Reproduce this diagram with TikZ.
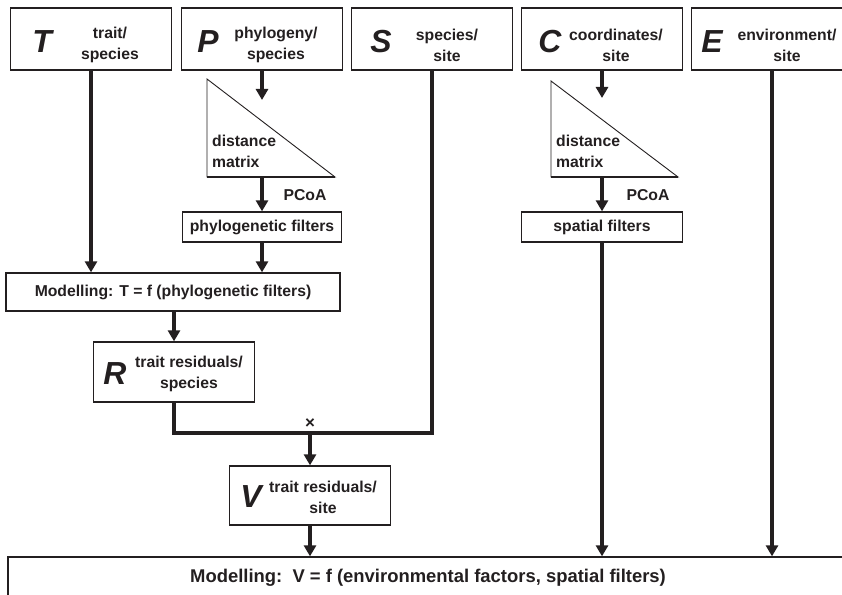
\documentclass[tikz,border=0pt]{standalone}
\usepackage{fontspec}
\setmainfont{Liberation Sans}
\usetikzlibrary{arrows.meta,positioning}
\definecolor{ink}{RGB}{35,31,32}
\tikzset{>={Triangle[length=11bp,width=12bp]}}
\tikzset{
  box/.style={draw=ink, line width=1.3bp, minimum width=161bp, minimum height=62bp, inner sep=0pt, text=ink, font=\fontsize{15.8}{20}\selectfont\bfseries},
  bigvar/.style={inner sep=0pt, text=ink, font=\fontsize{32}{32}\selectfont\bfseries\itshape},
  lbl/.style={inner sep=0pt, align=center, text=ink, font=\fontsize{15.8}{21}\selectfont\bfseries},
  flow/.style={draw=ink, line width=3.2bp, ->},
  link/.style={draw=ink, line width=3.2bp},
  tri/.style={draw=ink, line width=0.9bp},
}
\begin{document}
\begin{tikzpicture}[x=1bp,y=-1bp]
\useasboundingbox (0,0) rectangle (842,595);
%%%% top row
\node[box] (Tbox) at (91,39) {};
\node[bigvar] (T) at (42,42) {T};
\node[lbl] (Tlbl) at (110,45) {trait/\\species};
\node[box] (Pbox) at (262,39) {};
\node[bigvar] (P) at (208,42) {P};
\node[lbl] (Plbl) at (276,45) {phylogeny/\\species};
\node[box] (Sbox) at (432,39) {};
\node[bigvar] (S) at (381,42) {S};
\node[lbl] (Slbl) at (447,45) {species/\\site};
\node[box] (Cbox) at (602,39) {};
\node[bigvar] (C) at (550,42) {C};
\node[lbl] (Clbl) at (616,45) {coordinates/\\site};
\node[box] (Ebox) at (772,39) {};
\node[bigvar] (E) at (712,42) {E};
\node[lbl] (Elbl) at (787,45) {environment/\\site};
%%%% phylogeny column
\coordinate (Pa) at (207,79);
\coordinate (Pb) at (207,177);
\coordinate (Pc) at (335,177);
\coordinate (Pin) at (262,100);
\draw[tri] (Pa) -- (Pc) -- (Pb) -- cycle;
\draw[line width=2bp, draw=ink] (Pb) -- (Pc);
\node[lbl, align=left, anchor=west] (Pdist) at (212,151) {distance\\matrix};
\node[lbl] (Ppcoa) at (305,195) {PCoA};
\node[box, minimum width=159bp, minimum height=30bp] (Phyl) at (262,227) {phylogenetic filters};
\draw[flow] (Pbox.south) -- (Pin);
\draw[flow] (Pin |- Pb) -- (Phyl.north);
%%%% coordinates column
\coordinate (Ca) at (551,81);
\coordinate (Cb) at (551,177);
\coordinate (Cc) at (678,177);
\coordinate (Cin) at (602,98);
\draw[tri] (Ca) -- (Cc) -- (Cb) -- cycle;
\draw[line width=2bp, draw=ink] (Cb) -- (Cc);
\node[lbl, align=left, anchor=west] (Cdist) at (556,151) {distance\\matrix};
\node[lbl] (Cpcoa) at (648,195) {PCoA};
\node[box, minimum height=30bp] (Spat) at (602,227) {spatial filters};
\draw[flow] (Cbox.south) -- (Cin);
\draw[flow] (Cin |- Cb) -- (Spat.north);
%%%% trait modelling
\node[box, minimum width=334bp, minimum height=38bp] (Mod1) at (173,292) {Modelling: T = f (phylogenetic filters)};
\draw[flow] (Tbox.south) -- (Tbox.south |- Mod1.north);
\draw[flow] (Phyl.south) -- (Phyl.south |- Mod1.north);
\node[box, minimum height=60bp] (Rbox) at (174,372) {};
\node[bigvar] (R) at (115,374) {R};
\node[lbl] (Rlbl) at (189,374) {trait residuals/\\species};
\draw[flow] (Mod1.south -| Rbox.north) -- (Rbox.north);
%%%% product with species/site
\coordinate (J) at (310,433);
\node[lbl, font=\fontsize{17}{17}\selectfont\bfseries] (X) at (310,424) {×};
\draw[link] (Rbox.south) |- (J) -| (Sbox.south);
\node[box, minimum height=59bp] (Vbox) at (310,495.5) {};
\node[bigvar] (V) at (251,497) {V};
\node[lbl] (Vlbl) at (323,497) {trait residuals/\\site};
\draw[flow] (J) -- (Vbox.north);
%%%% final modelling
\node[box, minimum width=852bp, minimum height=63bp] (Mod2) at (434,588.5) {};
\node[lbl, font=\fontsize{18.5}{20}\selectfont\bfseries] (Mod2lbl) at (428,578) {Modelling:\ \ V = f (environmental factors, spatial filters)};
\draw[flow] (Vbox.south) -- (Vbox.south |- Mod2.north);
\draw[flow] (Spat.south) -- (Spat.south |- Mod2.north);
\draw[flow] (Ebox.south) -- (Ebox.south |- Mod2.north);
\end{tikzpicture}
\end{document}
